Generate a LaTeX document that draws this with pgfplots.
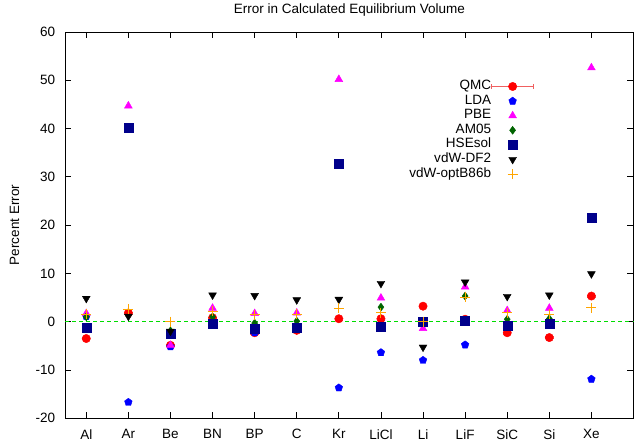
\documentclass[border=0pt]{standalone}
\usepackage{pgfplots}
\pgfplotsset{compat=1.18}
\usepackage{fontspec}
\setmainfont{Liberation Sans}
\definecolor{lda}{RGB}{0,0,255}
\definecolor{pbe}{RGB}{255,0,255}
\definecolor{amo}{RGB}{0,100,0}
\definecolor{hse}{RGB}{0,0,139}
\definecolor{orangec}{RGB}{255,165,0}
\definecolor{errc}{RGB}{240,96,96}
\definecolor{zerogreen}{RGB}{0,220,0}
\newcommand{\fs}{\fontsize{13.5}{15}\selectfont}
\pgfplotsset{
  mk/.style={only marks,
    legend image code/.code={\draw[mark repeat=2,mark phase=2,##1] plot coordinates {(0pt,0pt) (21pt,0pt) (42pt,0pt)};}},
  every axis title/.style={at={(0.5,1)}, anchor=south, yshift=15pt, inner sep=0pt, text height=14pt},
  every axis y label/.style={at={(axis description cs:-0.081,0.5)}, rotate=90, anchor=south,
    inner sep=0pt, text height=19pt, text depth=0pt},
}
\begin{document}
\fs
\begin{tikzpicture}
\begin{axis}[
  width=568pt, height=386pt, scale only axis,
  xmin=0.5, xmax=14, ymin=-20, ymax=60,
  xtick={1,...,13},
  xticklabels={Al,Ar,Be,BN,BP,C,Kr,LiCl,Li,LiF,SiC,Si,Xe},
  ytick={-20,-10,...,60},
  tick align=inside, major tick length=6pt,
  minor tick num=0,
  tick style={black, line width=0.8pt},
  axis line style={line width=0.9pt},
  /pgf/number format/assume math mode=true,
  tick label style={font=\fs, inner sep=0pt},
  yticklabel style={xshift=-10pt},
  xticklabel style={yshift=-11pt, text depth=2pt},
  title={Error in Calculated Equilibrium Volume},
  title style={font=\fs},
  ylabel={Percent Error},
  ylabel style={font=\fs},
  legend plot pos=right,
  legend cell align=right,
  legend style={draw=none, fill=none, at={(0.8257,0.875)}, anchor=north east,
    inner sep=0pt, font=\fs,
    nodes={inner sep=0pt, text height=9pt, text depth=3pt},
    row sep=2.6pt,
    /tikz/every even column/.append style={column sep=8pt}},
  clip=false,
]
% zero line
\addplot[zerogreen, dashed, line width=1pt, dash pattern=on 4pt off 3pt, forget plot] coordinates {(0.5,0) (14,0)};
\addplot[mk, mark=*, mark size=4.2pt, red, mark options={fill=red, draw=red},
  error bars/.cd, y dir=both, y explicit, error bar style={errc, line width=1pt},
  /pgfplots/legend image code/.code={
    \draw[errc, line width=1.2pt] (0pt,0pt) -- (42pt,0pt);
    \draw[errc, line width=1.2pt] (0pt,-2.5pt) -- (0pt,2.5pt) (42pt,-2.5pt) -- (42pt,2.5pt);
    \draw[red, fill=red] plot[mark=*, mark size=4.2pt, only marks] coordinates {(21pt,0pt)};
  }]
  coordinates {
  (1,-3.5) +- (0,0.2)
  (2,1.8) +- (0,0.2)
  (3,-4.9) +- (0,0.2)
  (4,0.8) +- (0,0.2)
  (5,-2.3) +- (0,0.2)
  (6,-1.8) +- (0,0.2)
  (7,0.6) +- (0,0.2)
  (8,0.6) +- (0,0.2)
  (9,3.2) +- (0,0.2)
  (10,0.5) +- (0,0.2)
  (11,-2.3) +- (0,0.2)
  (12,-3.3) +- (0,0.2)
  (13,5.3) +- (0,0.2)
  };
\addlegendentry{QMC}
\addplot[mk, mark=pentagon*, mark size=4pt, lda, mark options={fill=lda, draw=lda}]
  coordinates {(1,1.1) (2,-16.7) (3,-5.2) (4,-0.8) (5,-2.3) (6,-1.6) (7,-13.7) (8,-6.4) (9,-8.0) (10,-4.8) (11,-1.0) (12,-0.8) (13,-11.9)};
\addlegendentry{LDA}
\addplot[mk, mark=triangle*, mark size=4.5pt, pbe, mark options={fill=pbe, draw=pbe}]
  coordinates {(1,1.7) (2,44.7) (3,-4.9) (4,2.8) (5,1.7) (6,1.8) (7,50.2) (8,4.9) (9,-1.4) (10,7.2) (11,2.3) (12,2.8) (13,52.6)};
\addlegendentry{PBE}
\addplot[mk, mark=diamond*, mark size=4pt, amo, mark options={fill=amo, draw=amo}]
  coordinates {(1,1.0) (3,-1.9) (4,1.0) (5,-0.3) (6,0.1) (8,3.0) (9,0.0) (10,5.3) (11,0.5) (12,0.6)};
\addlegendentry{AM05}
\addplot[mk, mark=square*, mark size=4.5pt, hse, mark options={fill=hse, draw=hse}]
  coordinates {(1,-1.2) (2,40.2) (3,-2.5) (4,-0.4) (5,-1.4) (6,-1.3) (7,32.7) (8,-1.1) (9,0.0) (10,0.2) (11,-0.8) (12,-0.5) (13,21.5)};
\addlegendentry{HSEsol}
\addplot[mk, mark=triangle*, mark size=4.5pt, black, mark options={fill=black, draw=black, rotate=180}]
  coordinates {(1,4.8) (2,1.1) (3,-2.0) (4,5.5) (5,5.4) (6,4.5) (7,4.6) (8,7.9) (9,-5.3) (10,8.2) (11,5.2) (12,5.5) (13,9.9)};
\addlegendentry{vdW-DF2}
\addplot[only marks, mark=+, mark size=5pt, draw=orangec, color=orangec, mark options={draw=orangec, line width=1pt},
  legend image code/.code={\draw[orangec, line width=1pt] (16pt,0pt) -- (26pt,0pt) (21pt,-5pt) -- (21pt,5pt);}]
  coordinates {(1,1.5) (2,2.6) (3,0.0) (4,2.2) (5,1.4) (6,1.5) (7,2.8) (8,1.8) (9,0.0) (10,5.1) (11,1.8) (12,1.5) (13,2.9)};
\addlegendentry{vdW-optB86b}
\end{axis}
\end{tikzpicture}
\end{document}
